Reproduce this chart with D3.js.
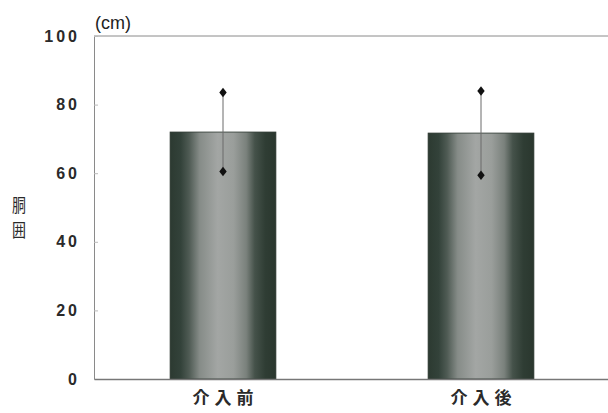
<!DOCTYPE html>
<html>
<head>
<meta charset="utf-8">
<script src="https://cdn.jsdelivr.net/npm/d3@7"></script>
<style>
  html, body { margin: 0; padding: 0; background: #fff; }
  svg { display: block; }
</style>
</head>
<body>
<svg id="chart" width="608" height="413"></svg>
<script>
// Waist circumference before / after the intervention (mean ± SD)
const categories = ["介入前", "介入後"];
const means = [72.0, 71.7];
const sds = [11.5, 12.3];
const yTicks = [0, 20, 40, 60, 80, 100];

const svg = d3.select("#chart");
const W = 608, H = 413;
const margin = { left: 94, top: 36, right: -2, bottom: 34 };
const x0 = margin.left, x1 = W - margin.right;
const yTop = margin.top, yBot = H - margin.bottom;

const x = d3.scaleBand().domain(categories).range([x0, x1])
  .paddingInner(0.59).paddingOuter(0.295);
const y = d3.scaleLinear().domain([0, 100]).range([yBot, yTop]);

// Cylinder-like shading across each bar
const defs = svg.append("defs");
const grad = defs.append("linearGradient").attr("id", "barShade")
  .attr("x1", "0").attr("x2", "1").attr("y1", "0").attr("y2", "0");
[
  [0.00, "#2c3a31"], [0.10, "#33423a"], [0.18, "#4f5b54"], [0.28, "#868c88"],
  [0.45, "#a3a6a4"], [0.60, "#9a9e9b"], [0.72, "#7a817c"], [0.80, "#45524a"],
  [0.90, "#2f3d34"], [1.00, "#2a372e"]
].forEach(([o, c]) => grad.append("stop").attr("offset", o).attr("stop-color", c));

// Frame: top border
svg.append("line").attr("x1", x0).attr("x2", W).attr("y1", yTop).attr("y2", yTop)
  .attr("stroke", "#8a8a8a").attr("stroke-width", 1);

// Bars
svg.append("g").selectAll("rect").data(categories).join("rect")
  .attr("x", d => x(d))
  .attr("width", x.bandwidth())
  .attr("y", (d, i) => y(means[i]))
  .attr("height", (d, i) => y(0) - y(means[i]))
  .attr("fill", "url(#barShade)")
  .attr("stroke", "#2a352e").attr("stroke-width", 0.8);

// Error bars
const eb = svg.append("g");
categories.forEach((c, i) => {
  const cx = x(c) + x.bandwidth() / 2;
  const hi = means[i] + sds[i], lo = means[i] - sds[i];
  eb.append("line").attr("x1", cx).attr("x2", cx)
    .attr("y1", y(hi)).attr("y2", y(lo))
    .attr("stroke", "#6a6a6a").attr("stroke-width", 1);
  [hi, lo].forEach(v => {
    eb.append("path")
      .attr("d", d3.symbol(d3.symbolDiamond, 36)())
      .attr("transform", `translate(${cx},${y(v)}) scale(1.15,0.85)`)
      .attr("fill", "#111");
  });
});

// Y axis
const yAxis = d3.axisLeft(y).tickValues(yTicks).tickSize(-4).tickPadding(14)
  .tickFormat(d3.format("d"));
const gy = svg.append("g").attr("transform", `translate(${x0},0)`).call(yAxis);
gy.select(".domain").attr("stroke", "#8a8a8a");
gy.selectAll(".tick line").attr("stroke", "#bbb");
gy.selectAll(".tick text")
  .attr("font-family", "'Liberation Sans', Arial, sans-serif")
  .attr("font-size", 16).attr("font-weight", "bold")
  .attr("letter-spacing", 3).attr("fill", "#2a2a2a");

// X axis
const xAxis = d3.axisBottom(x).tickSize(0).tickPadding(13);
const gx = svg.append("g").attr("transform", `translate(0,${yBot})`).call(xAxis);
gx.select(".domain").attr("stroke", "#777").attr("stroke-width", 1.4);
gx.selectAll(".tick text")
  .attr("font-family", "'Noto Sans CJK JP', sans-serif")
  .attr("font-size", 17).attr("font-weight", "bold")
  .attr("letter-spacing", 5).attr("dx", 2.5).attr("fill", "#2a2a2a");

// Unit label
svg.append("text").attr("x", x0 + 1).attr("y", yTop - 7)
  .attr("font-family", "'Liberation Sans', Arial, sans-serif")
  .attr("font-size", 18).attr("fill", "#222").text("(cm)");

// Vertical y-axis title, one glyph per line
const title = svg.append("g")
  .attr("font-family", "'Noto Sans CJK JP', sans-serif")
  .attr("font-size", 14).attr("fill", "#2a2a2a").attr("text-anchor", "middle");
["胴", "囲"].forEach((ch, i) => {
  title.append("text")
    .attr("transform", `translate(19,${204 + i * 25}) scale(1,1.3)`)
    .attr("dominant-baseline", "central")
    .text(ch);
});
</script>
</body>
</html>
